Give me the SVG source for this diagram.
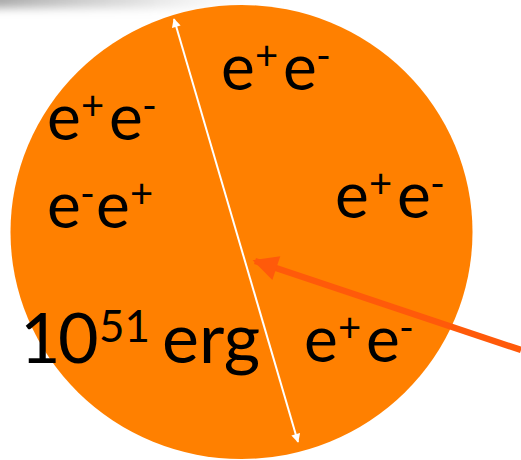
<svg xmlns="http://www.w3.org/2000/svg" width="521" height="460" viewBox="0 0 521 460">
<defs>
<linearGradient id="shade" x1="0" y1="0" x2="1" y2="0">
<stop offset="0" stop-color="#9a9a9a" stop-opacity="0.9"/>
<stop offset="0.5" stop-color="#c8c8c8" stop-opacity="0.6"/>
<stop offset="1" stop-color="#ffffff" stop-opacity="0"/>
</linearGradient>
<filter id="blur" x="-0.2" y="-1" width="1.4" height="3"><feGaussianBlur stdDeviation="5"/></filter>
<marker id="wh" viewBox="0 0 10 10" refX="9" refY="5" markerWidth="10" markerHeight="9" markerUnits="userSpaceOnUse" orient="auto-start-reverse">
<path d="M0,0 L10,5 L0,10 z" fill="#ffffff"/>
</marker>
<marker id="rh" viewBox="0 0 10 10" refX="9" refY="5" markerWidth="28" markerHeight="25" markerUnits="userSpaceOnUse" orient="auto">
<path d="M0,0 L10,5 L0,10 z" fill="#ff5a0a"/>
</marker>
<style>
text{font-family:"Lato","Liberation Sans",sans-serif;fill:#000}
.m{font-size:64px}
.s{font-size:40px}
.b{font-size:70px}
.bs{font-size:44px}
</style>
</defs>
<rect x="-10" y="-14" width="290" height="22" fill="url(#shade)" filter="url(#blur)"/>
<g id="sphere">
<ellipse cx="241.5" cy="232" rx="231" ry="227" fill="#ff8000"/>
</g>
<g id="connectors">
<line x1="174" y1="19" x2="298" y2="442" stroke="#ffffff" stroke-width="2" marker-start="url(#wh)" marker-end="url(#wh)"/>
<line x1="521" y1="350" x2="255" y2="261" stroke="#ff5a0a" stroke-width="6.5" marker-end="url(#rh)"/>
</g>
<g id="label-top">
<text><tspan class="m" x="221" y="90">e</tspan><tspan class="s" x="255" y="70">+</tspan><tspan class="m" x="283" y="90">e</tspan><tspan class="s" x="316" y="70">-</tspan></text>
</g>
<g id="label-left1">
<text><tspan class="m" x="47" y="140">e</tspan><tspan class="s" x="81" y="120">+</tspan><tspan class="m" x="109" y="140">e</tspan><tspan class="s" x="142" y="120">-</tspan></text>
</g>
<g id="label-left2">
<text><tspan class="m" x="47" y="228">e</tspan><tspan class="s" x="80" y="208">-</tspan><tspan class="m" x="96" y="228">e</tspan><tspan class="s" x="130" y="208">+</tspan></text>
</g>
<g id="label-right">
<text><tspan class="m" x="335" y="218">e</tspan><tspan class="s" x="369" y="198">+</tspan><tspan class="m" x="397" y="218">e</tspan><tspan class="s" x="430" y="198">-</tspan></text>
</g>
<g id="label-bottomright">
<text><tspan class="m" x="304" y="362">e</tspan><tspan class="s" x="338" y="342">+</tspan><tspan class="m" x="366" y="362">e</tspan><tspan class="s" x="399" y="342">-</tspan></text>
</g>
<g id="label-energy">
<text><tspan class="b" x="20" y="363">1</tspan><tspan class="b" x="58" y="363">0</tspan><tspan class="bs" x="99" y="342">51</tspan><tspan class="b" x="162" y="363">erg</tspan></text>
</g>
</svg>
